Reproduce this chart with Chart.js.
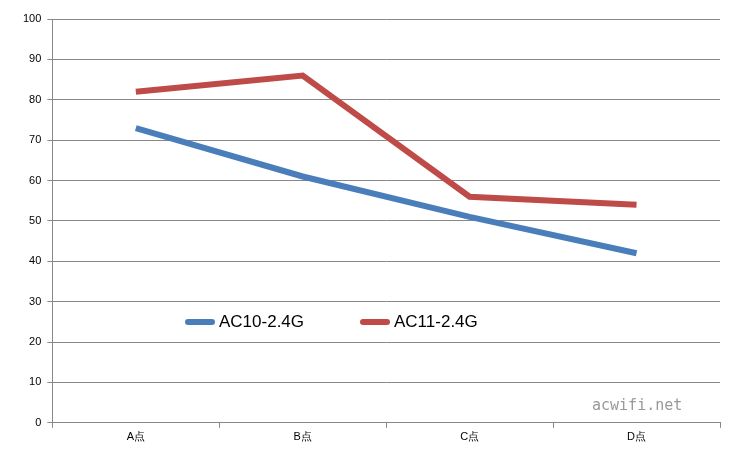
<!DOCTYPE html>
<html><head><meta charset="utf-8">
<script src="https://cdn.jsdelivr.net/npm/chart.js@4/dist/chart.umd.min.js"></script>
<style>
body{margin:0;background:#fff;font-family:"DejaVu Sans",sans-serif}
#wrap{position:relative;width:729px;height:463px}
.lg{position:absolute;top:312px;font-family:"Liberation Sans",Arial,sans-serif;font-size:17px;color:#000;display:flex;align-items:center}
.lg span{display:inline-block;width:30px;height:6px;margin-right:4px;border-radius:3px}
#wm{position:absolute;left:592px;top:396px;font-family:"DejaVu Sans Mono",monospace;font-size:15px;color:#999}
</style></head>
<body><div id="wrap"><canvas id="c" width="729" height="463"></canvas>
<div class="lg" style="left:185px"><span style="background:#4a7ebb"></span>AC10-2.4G</div>
<div class="lg" style="left:360px"><span style="background:#be4b48"></span>AC11-2.4G</div>
<div id="wm">acwifi.net</div></div>
<script>
const categorias = ['A点', 'B点', 'C点', 'D点'];
const serieAC10 = [73, 61, 51, 42];
const serieAC11 = [82, 86, 56, 54];
const ticksY = [0, 10, 20, 30, 40, 50, 60, 70, 80, 90, 100];

new Chart(document.getElementById('c'), {
    type: 'line',
    data: {
        labels: categorias,
        datasets: [
            { label: 'AC10-2.4G', data: serieAC10, borderColor: '#4a7ebb', borderWidth: 6, pointRadius: 0, tension: 0 },
            { label: 'AC11-2.4G', data: serieAC11, borderColor: '#be4b48', borderWidth: 6, pointRadius: 0, tension: 0 }
        ]
    },
    options: {
        responsive: false,
        animation: false,
        layout: { padding: { top: 19, right: 9, bottom: 16, left: 17 } },
        plugins: { legend: { display: false }, tooltip: { enabled: false } },
        scales: {
            x: {
                offset: true,
                grid: { offset: true, drawOnChartArea: false, color: '#888', tickLength: 5 },
                border: { color: '#888' },
                ticks: { color: '#000', font: { size: 11 } }
            },
            y: {
                min: 0, max: 100,
                afterBuildTicks: ax => { ax.ticks = ticksY.map(v => ({ value: v })); },
                grid: { color: '#888', tickLength: 5 },
                border: { color: '#888' },
                ticks: { color: '#000', font: { size: 11 }, padding: 6 }
            }
        }
    }
});
</script></body></html>
